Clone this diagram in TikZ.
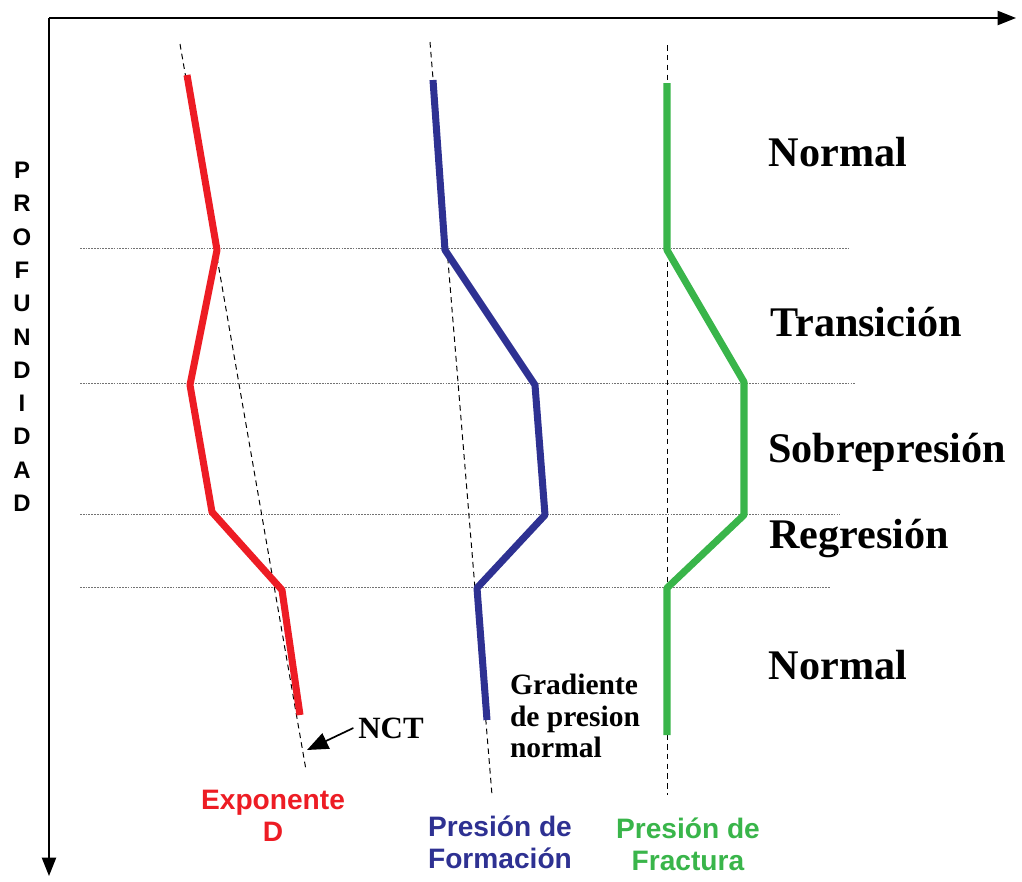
\documentclass[tikz,border=0pt]{standalone}
\usepackage{fontspec}
\setmainfont{Liberation Serif}
\setsansfont{Liberation Sans}
\usetikzlibrary{arrows.meta,positioning}
\definecolor{expred}{RGB}{237,28,36}
\definecolor{formblue}{RGB}{46,49,146}
\definecolor{fracgreen}{RGB}{57,181,74}
\tikzset{
  zone/.style={font=\bfseries\fontsize{30}{34}\selectfont},
  curvename/.style={font=\sffamily\bfseries\fontsize{20}{23}\selectfont, align=center},
  axisletter/.style={font=\sffamily\bfseries\fontsize{17}{18}\selectfont},
  trend/.style={black, dash pattern=on 4pt off 3pt, line width=0.7pt},
  boundary/.style={black!55, dash pattern=on 1.2pt off 0.8pt, line width=0.7pt},
  curve/.style={line width=5pt, line join=round},
}

\begin{document}
\begin{tikzpicture}[x=0.025cm, y=-0.025cm]
    \useasboundingbox (0,0) rectangle (1022,882);

    % Axes
    \coordinate (origin) at (49,18);
    \coordinate (xend) at (1016,18);
    \coordinate (yend) at (49,876);
    \draw[line width=1.4pt, -{Triangle[length=13pt, width=10pt]}] (origin) -- (xend);
    \draw[line width=1.4pt, -{Triangle[length=13pt, width=10pt]}] (origin) -- (yend);

    % Axis title
    \foreach \letter [count=\i] in {P,R,O,F,U,N,D,I,D,A,D}
        \node[axisletter] (depth\i) at (22, 137+33.3*\i) {\letter};

    % Zone boundaries
    \draw[boundary] (80,248) -- (850,248);
    \draw[boundary] (80,383) -- (855,383);
    \draw[boundary] (80,514) -- (840,514);
    \draw[boundary] (80,587) -- (830,587);

    % Normal trends
    \coordinate (ncttop) at (180,44);
    \coordinate (nctend) at (306,770);
    \draw[trend] (ncttop) -- (nctend);
    \draw[trend] (430,42) -- (492,795);
    \draw[trend] (667,45) -- (667,795);

    % Curves
    \draw[curve, expred] (187,75) -- (217,250) -- (190,385) -- (212,512) -- (282,590) -- (300,715);
    \draw[curve, formblue] (433,80) -- (445,250) -- (535,385) -- (545,515) -- (477,588) -- (487,720);
    \draw[curve, fracgreen] (667,83) -- (667,250) -- (744,382) -- (744,515) -- (667,588) -- (667,735);

    % Zone names
    \node[zone] (normaltop) at (838,152) {Normal};
    \node[zone] (transition) at (866,322) {Transición};
    \node[zone] (overpressure) at (887,452) {Sobrepresión};
    \node[zone] (regression) at (859,538) {Regresión};
    \node[zone] (normalbottom) at (838,665) {Normal};

    % Notes
    \node[font=\bfseries\fontsize{22}{24}\selectfont] (nct) at (391,728) {NCT};
    \coordinate (ncttip) at (307,750);
    \draw[line width=1.2pt, -{Triangle[length=15pt, width=12pt]}] (nct.west) -- (ncttip);
    \node[font=\bfseries\fontsize{21}{22.5}\selectfont, align=left] (gradient) at (575,716)
        {Gradiente\\de presion\\normal};

    % Curve names
    \node[curvename, text=expred] (dexp) at (273,816) {Exponente\\D};
    \node[curvename, text=formblue] (formation) at (500,842) {Presión de\\Formación};
    \node[curvename, text=fracgreen] (fracture) at (688,844) {Presión de\\Fractura};
\end{tikzpicture}
\end{document}
